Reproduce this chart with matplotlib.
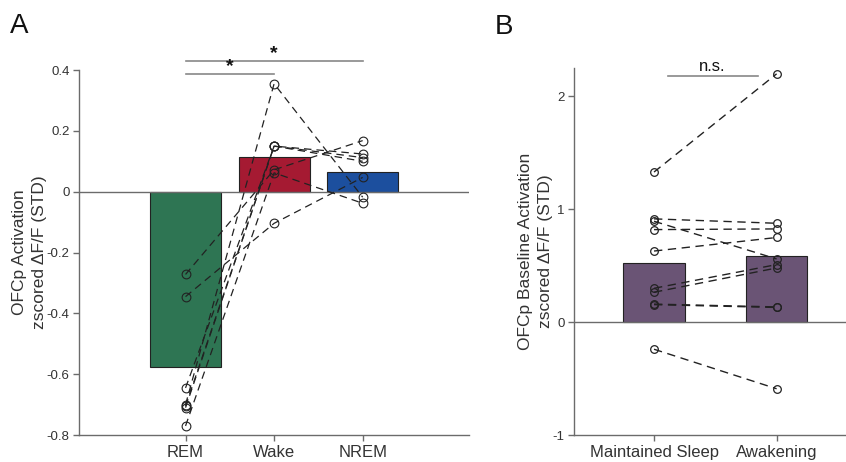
import matplotlib
matplotlib.use("Agg")
import matplotlib.pyplot as plt
import numpy as np

plt.rcParams['font.family'] = ['Liberation Sans', 'DejaVu Sans']

# ---------------- Data ----------------
# Panel A
a_categories = ["REM", "Wake", "NREM"]
a_bar_values = [-0.575, 0.115, 0.064]
a_rem = [-0.272, -0.345, -0.645, -0.700, -0.710, -0.770, -0.705]
a_wake = [0.072, -0.104, 0.150, 0.355, 0.150, 0.062, 0.150]
a_nrem = [0.168, 0.047, 0.124, -0.018, 0.100, -0.038, 0.112]
a_yticks = [-0.8, -0.6, -0.4, -0.2, 0, 0.2, 0.4]
a_yticklabels = ["-0.8", "-0.6", "-0.4", "-0.2", "0", "0.2", "0.4"]

# Panel B
b_categories = ["Maintained Sleep", "Awakening"]
b_bar_values = [0.52, 0.59]
b_maintained = [1.33, 0.915, 0.894, 0.82, 0.63, 0.30, 0.265, 0.160, 0.155, -0.24]
b_awakening = [2.20, 0.876, 0.56, 0.826, 0.75, 0.51, 0.48, 0.135, 0.130, -0.59]
b_yticks = [-1, 0, 1, 2]
b_yticklabels = ["-1", "0", "1", "2"]

a_colors = ["#2E7553", "#A51A32", "#1C4F9E"]
b_color = "#6A5475"
spine_col = "#6b6b6b"
text_col = "#333333"

fig = plt.figure(figsize=(8.46, 4.62), dpi=100)

# ---------------- Panel A ----------------
axA = fig.add_axes([0.0937, 0.0584, 0.4606, 0.79])
xa = np.arange(len(a_categories))
axA.bar(xa, a_bar_values, width=0.8, color=a_colors, edgecolor="#222222",
        linewidth=0.8, zorder=2)
axA.axhline(0, color=spine_col, lw=1.0, zorder=3)
for r, w, n in zip(a_rem, a_wake, a_nrem):
    axA.plot(xa, [r, w, n], color="#222222", ls=(0, (6, 4)), lw=0.9,
             marker="o", markersize=6.3, markerfacecolor="none",
             markeredgecolor="#222222", markeredgewidth=0.8, zorder=4)
axA.set_xlim(-1.2, 3.2)
axA.set_ylim(-0.8, 0.4)
axA.set_xticks(xa)
axA.set_xticklabels(a_categories, fontsize=12, color=text_col)
axA.set_yticks(a_yticks)
axA.set_yticklabels(a_yticklabels, fontsize=9.5, color=text_col)
axA.set_ylabel("OFCp Activation\nzscored ΔF/F (STD)", fontsize=12.5,
               color=text_col, labelpad=0, linespacing=1.35)
for s in ["top", "right"]:
    axA.spines[s].set_visible(False)
for s in ["left", "bottom"]:
    axA.spines[s].set_color(spine_col)
    axA.spines[s].set_linewidth(1.0)
axA.tick_params(axis="both", color=spine_col, length=4, width=1.0, pad=3)

# significance bars
axA.plot([0, 1], [0.386, 0.386], color="#888888", lw=1.2, clip_on=False)
axA.text(0.5, 0.383, "*", ha="center", va="bottom", fontsize=14,
         fontweight="bold", color="#111111", clip_on=False)
axA.plot([0, 2], [0.43, 0.43], color="#888888", lw=1.2, clip_on=False)
axA.text(1.0, 0.427, "*", ha="center", va="bottom", fontsize=14,
         fontweight="bold", color="#111111", clip_on=False)

# ---------------- Panel B ----------------
axB = fig.add_axes([0.6789, 0.0584, 0.3211, 0.794])
xb = np.arange(len(b_categories))
axB.bar(xb, b_bar_values, width=0.5, color=b_color, edgecolor="#222222",
        linewidth=0.8, zorder=2)
axB.axhline(0, color=spine_col, lw=1.0, zorder=3)
for m, a in zip(b_maintained, b_awakening):
    axB.plot(xb, [m, a], color="#222222", ls=(0, (6, 4)), lw=1.0,
             marker="o", markersize=5.5, markerfacecolor="none",
             markeredgecolor="#222222", markeredgewidth=0.9, zorder=4)
axB.set_xlim(-0.65, 1.566)
axB.set_ylim(-1, 2.25)
axB.set_xticks(xb)
axB.set_xticklabels(b_categories, fontsize=12, color=text_col)
axB.set_yticks(b_yticks)
axB.set_yticklabels(b_yticklabels, fontsize=9.5, color=text_col)
axB.set_ylabel("OFCp Baseline Activation\nzscored ΔF/F (STD)", fontsize=12.5,
               color=text_col, labelpad=0, linespacing=1.35)
for s in ["top", "right"]:
    axB.spines[s].set_visible(False)
for s in ["left", "bottom"]:
    axB.spines[s].set_color(spine_col)
    axB.spines[s].set_linewidth(1.0)
axB.tick_params(axis="both", color=spine_col, length=4, width=1.0, pad=3)

axB.plot([0.11, 0.845], [2.18, 2.18], color="#888888", lw=1.2, clip_on=False)
axB.text(0.478, 2.20, "n.s.", ha="center", va="bottom", fontsize=12,
         color="#111111", clip_on=False)

# panel letters
fig.text(0.012, 0.929, "A", fontsize=20, color="#111111", ha="left", va="baseline")
fig.text(0.585, 0.927, "B", fontsize=20, color="#111111", ha="left", va="baseline")

fig.savefig("out.png", dpi=100)
